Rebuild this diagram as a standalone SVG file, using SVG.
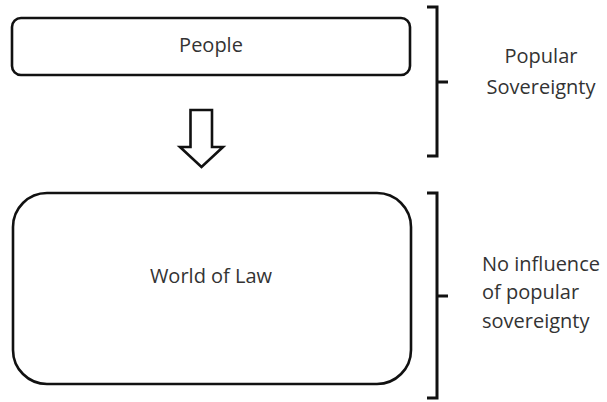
<svg xmlns="http://www.w3.org/2000/svg" width="607" height="402" viewBox="0 0 607 402">
<style>
.box{fill:#fff;stroke:#111;stroke-width:2.6}
.br{fill:none;stroke:#111;stroke-width:3}
.t{font-family:"Open Sans","Liberation Sans",Arial,sans-serif;font-size:20px;fill:#333}
</style>
<rect width="607" height="402" fill="#fff"/>
<g id="people">
<rect class="box" x="12" y="18" width="398" height="57" rx="9"/>
<text class="t" x="211" y="52" text-anchor="middle">People</text>
</g>
<g id="world-of-law">
<rect class="box" x="13" y="193" width="398" height="191" rx="34"/>
<text class="t" x="211" y="283" text-anchor="middle">World of Law</text>
</g>
<g id="connectors">
<path d="M190.5 110 H212 V147 H223 L201.5 167 L180 147 H190.5 Z" fill="#fff" stroke="#111" stroke-width="2.6" stroke-linejoin="miter"/>
</g>
<g id="bracket-popular">
<path class="br" d="M427 7 H437 V156 H427 M437 82 H448"/>
<text class="t" x="541" y="63" text-anchor="middle">Popular</text>
<text class="t" x="541" y="94" text-anchor="middle">Sovereignty</text>
</g>
<g id="bracket-no-influence">
<path class="br" d="M427 193 H437 V398 H427 M437 296 H448"/>
<text class="t" x="482" y="271">No influence</text>
<text class="t" x="482" y="299">of popular</text>
<text class="t" x="482" y="328">sovereignty</text>
</g>
</svg>
